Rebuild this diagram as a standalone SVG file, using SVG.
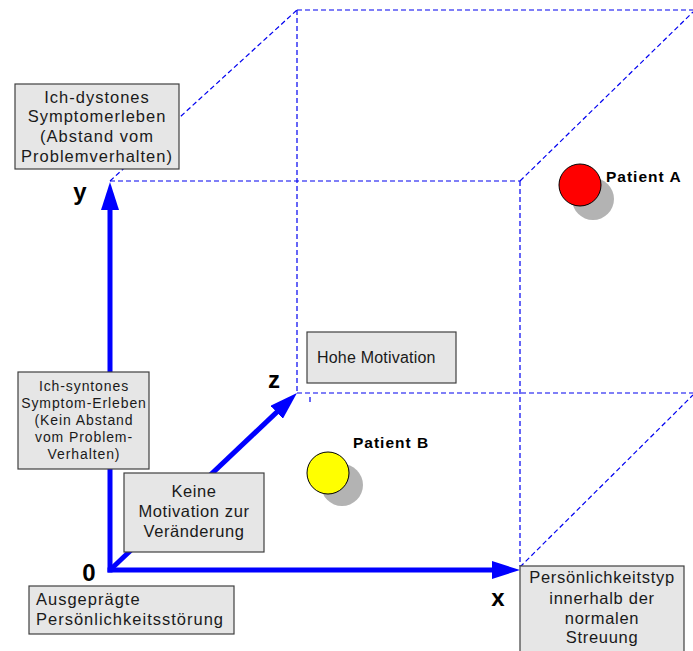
<svg xmlns="http://www.w3.org/2000/svg" width="693" height="651" viewBox="0 0 693 651">
<defs>
<style>
.box{fill:#e6e6e6;stroke:#404040;stroke-width:1.2}
.t{font-family:"Liberation Sans",Arial,sans-serif;fill:#1a1a1a}
.c{text-anchor:middle}
.lbl{font-family:"Liberation Sans",Arial,sans-serif;font-weight:bold;fill:#000}
.pl{font-size:15.5px;letter-spacing:1px}
.dash{stroke:#0000f0;stroke-width:1.2;stroke-dasharray:5,3;fill:none}
.axis{stroke:#0000ff;stroke-width:5;fill:none}
.sh{fill:#b3b3b3}
</style>
<marker id="ah" markerUnits="userSpaceOnUse" markerWidth="30" markerHeight="18" refX="18" refY="9" orient="auto">
<path d="M0,0 L28,9 L0,18 z" fill="#0000ff"/>
</marker>
</defs>
<rect width="693" height="651" fill="#fff"/>
<g id="cube">
<line class="dash" x1="110" y1="181" x2="520" y2="181"/>
<line class="dash" x1="520" y1="181" x2="520" y2="566"/>
<line class="dash" x1="297" y1="10" x2="693" y2="10"/>
<line class="dash" x1="297" y1="10" x2="297" y2="393"/>
<line class="dash" x1="297" y1="393" x2="693" y2="393"/>
<line class="dash" x1="110" y1="181" x2="297" y2="10"/>
<line class="dash" x1="520" y1="181" x2="693" y2="12"/>
<line class="dash" x1="520" y1="567" x2="693" y2="395"/>
<line class="dash" x1="310" y1="397" x2="310" y2="404"/>
</g>
<g id="connectors">
<line class="axis" x1="110" y1="572.5" x2="110" y2="192" marker-end="url(#ah)"/>
<line class="axis" x1="107.5" y1="570" x2="510" y2="570" marker-end="url(#ah)"/>
<line class="axis" x1="110" y1="570" x2="289.7" y2="399.9" marker-end="url(#ah)"/>
</g>
<g id="axis-labels">
<text class="lbl" x="80" y="200" font-size="24" text-anchor="middle">y</text>
<text class="lbl" x="274" y="388" font-size="24" text-anchor="middle">z</text>
<text class="lbl" x="89" y="581" font-size="24" text-anchor="middle">0</text>
<text class="lbl" x="498" y="606" font-size="24" text-anchor="middle">x</text>
</g>
<g id="node-ich-dystones">
<rect class="box" x="15" y="84" width="164" height="85"/>
<text class="t c" font-size="16.5" letter-spacing="1" x="97" y="103">Ich-dystones</text>
<text class="t c" font-size="16.5" letter-spacing="1" x="97" y="122">Symptomerleben</text>
<text class="t c" font-size="16.5" letter-spacing="1" x="97" y="142">(Abstand vom</text>
<text class="t c" font-size="16.5" letter-spacing="1" x="97" y="162">Problemverhalten)</text>
</g>
<g id="node-ich-syntones">
<rect class="box" x="18" y="372" width="131" height="97"/>
<text class="t c" font-size="14" letter-spacing="0.9" x="84" y="391">Ich-syntones</text>
<text class="t c" font-size="14" letter-spacing="0.9" x="84" y="408">Symptom-Erleben</text>
<text class="t c" font-size="14" letter-spacing="0.9" x="84" y="425">(Kein Abstand</text>
<text class="t c" font-size="14" letter-spacing="0.9" x="84" y="442">vom Problem-</text>
<text class="t c" font-size="14" letter-spacing="0.9" x="84" y="459">Verhalten)</text>
</g>
<g id="node-keine-motivation">
<rect class="box" x="124" y="473" width="140" height="79"/>
<text class="t c" font-size="16.5" letter-spacing="0.6" x="194" y="497">Keine</text>
<text class="t c" font-size="16.5" letter-spacing="0.6" x="194" y="517">Motivation zur</text>
<text class="t c" font-size="16.5" letter-spacing="0.6" x="194" y="537">Veränderung</text>
</g>
<g id="node-ausgepraegte">
<rect class="box" x="29" y="586" width="205" height="48"/>
<text class="t" font-size="16.5" letter-spacing="1" x="36" y="605">Ausgeprägte</text>
<text class="t" font-size="16.5" letter-spacing="1" x="36" y="625">Persönlichkeitsstörung</text>
</g>
<g id="node-persoenlichkeitstyp">
<rect class="box" x="520" y="566" width="164" height="90"/>
<text class="t c" font-size="16.5" letter-spacing="0.7" x="602" y="583">Persönlichkeitstyp</text>
<text class="t c" font-size="16.5" letter-spacing="0.7" x="602" y="604">innerhalb der</text>
<text class="t c" font-size="16.5" letter-spacing="0.7" x="602" y="624">normalen</text>
<text class="t c" font-size="16.5" letter-spacing="0.7" x="602" y="643">Streuung</text>
</g>
<g id="node-hohe-motivation">
<rect class="box" x="307" y="332" width="149" height="51"/>
<text class="t" font-size="16" letter-spacing="0.2" x="317" y="363">Hohe Motivation</text>
</g>
<g id="node-patient-a">
<circle class="sh" cx="593" cy="199" r="21"/>
<circle cx="580" cy="185" r="21" fill="#ff0000" stroke="#000" stroke-width="1"/>
<text class="lbl pl" x="606" y="182">Patient A</text>
</g>
<g id="node-patient-b">
<circle class="sh" cx="342" cy="485" r="21"/>
<circle cx="328" cy="473" r="21" fill="#ffff00" stroke="#000" stroke-width="1"/>
<text class="lbl pl" x="353" y="448">Patient B</text>
</g>
</svg>
